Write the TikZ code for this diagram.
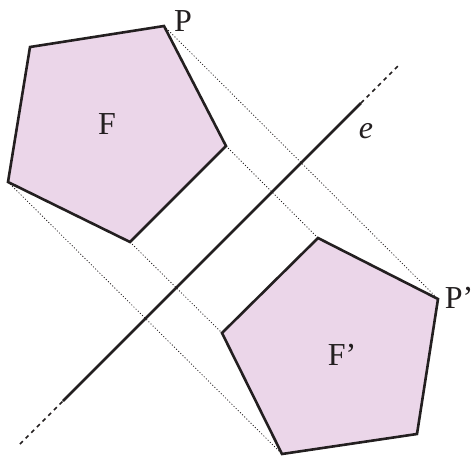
\documentclass[tikz,border=0pt]{standalone}
\usepackage{fontspec}
\setmainfont{Liberation Serif}
\usetikzlibrary{calc}
\definecolor{lilac}{HTML}{EBD6E9}
\definecolor{ink}{HTML}{231F20}

\begin{document}
\begin{tikzpicture}[x=0.5pt, y=-0.5pt,
  every node/.style={font=\fontsize{16}{19}\selectfont, text=ink, inner sep=0pt},
  figure/.style={fill=lilac, draw=ink, line width=1.3pt, line join=miter},
  axis/.style={draw=ink, line width=1.3pt},
  axisext/.style={draw=ink, line width=0.8pt, dash pattern=on 2pt off 2pt},
  guide/.style={draw=ink, line width=0.4pt, dash pattern=on 0.5pt off 1pt}
]
  \useasboundingbox (0,0) rectangle (472,456);

  % figure F
  \coordinate (P) at (164,26);
  \coordinate (A) at (30,47);
  \coordinate (B) at (8,182);
  \coordinate (C) at (130,242);
  \coordinate (D) at (226,146);
  % mirror image F'
  \coordinate (Pm) at (438,299);
  \coordinate (Am) at (417,434);
  \coordinate (Bm) at (282,454);
  \coordinate (Cm) at (222,333);
  \coordinate (Dm) at (318,238);
  % axis e
  \coordinate (e1) at (63,401);
  \coordinate (e2) at (361,103);
  \coordinate (e0) at (20,444);
  \coordinate (e3) at (398,66);

  % guides
  \draw[guide] (P) -- (Pm);
  \draw[guide] (B) -- (Bm);
  \draw[guide] (C) -- (Cm);
  \draw[guide] (D) -- (Dm);

  % axis
  \draw[axis] (e1) -- (e2);
  \draw[axisext] (e0) -- (e1);
  \draw[axisext] (e2) -- (e3);

  % the two pentagons
  \draw[figure] (P) -- (A) -- (B) -- (C) -- (D) -- cycle;
  \draw[figure] (Pm) -- (Am) -- (Bm) -- (Cm) -- (Dm) -- cycle;

  \node (lP) at (183,21) {P};
  \node (lPm) at (459,298) {P’};
  \node (lF) at (107,124) {F};
  \node (lFm) at (342,355) {F’};
  \node (le) at (366,131) {\itshape e};
\end{tikzpicture}
\end{document}
